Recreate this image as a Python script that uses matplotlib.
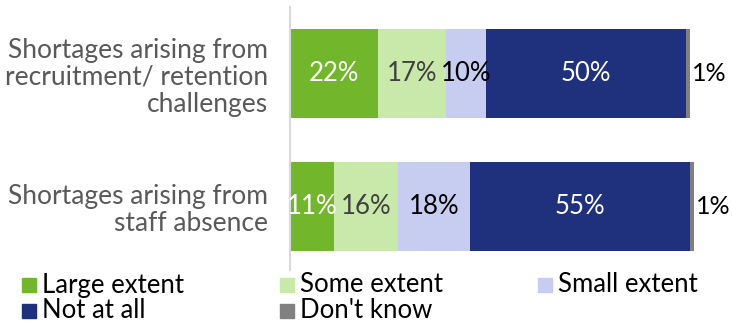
import numpy as np
import matplotlib.pyplot as plt
from matplotlib.patches import Rectangle

plt.rcParams['font.family'] = ['Lato', 'DejaVu Sans']

# Survey responses (% of respondents) for each kind of staff shortage
categories = ['Shortages arising from\nrecruitment/ retention\nchallenges',
              'Shortages arising from\nstaff absence']
series = ['Large extent', 'Some extent', 'Small extent', 'Not at all', "Don't know"]
large_extent = [22, 11]
some_extent = [17, 16]
small_extent = [10, 18]
not_at_all = [50, 55]
dont_know = [1, 1]

values = [large_extent, some_extent, small_extent, not_at_all, dont_know]
colors = ['#72b62c', '#c8e9a9', '#c6cdf0', '#1f317c', '#808080']
label_colors = ['white', '#404040', 'black', 'white', 'black']

fig = plt.figure(figsize=(7.32, 3.23), dpi=100)
ax = fig.add_axes([290 / 732, 1 - 270 / 323, 440 / 732, 263 / 323])

y = np.arange(len(categories))
left = np.zeros(len(categories))
for vals, col, lcol in zip(values, colors, label_colors):
    vals = np.array(vals, dtype=float)
    bars = ax.barh(y, vals, left=left, height=0.67, color=col, edgecolor='none')
    if col == '#808080':
        # tiny slice: label sits outside the bar
        ax.bar_label(bars, labels=[f'{v:.0f}%' for v in vals], padding=1.5,
                     color=lcol, fontsize=18)
    else:
        ax.bar_label(bars, labels=[f'{v:.0f}%' for v in vals], label_type='center',
                     color=lcol, fontsize=18.5)
    left += vals

ax.set_xlim(0, 110)
ax.set_ylim(1.477, -0.5)
ax.set_xticks([])
ax.set_yticks(y)
ax.set_yticklabels(categories, fontsize=19, color='#595959', ha='right',
                   linespacing=1.1)
ax.tick_params(axis='y', length=0, pad=16)
for s in ['top', 'right', 'bottom']:
    ax.spines[s].set_visible(False)
ax.spines['left'].set_color('#d9d9d9')
ax.spines['left'].set_linewidth(1.5)

# legend laid out in fixed-width columns, three per row
col_x = [22, 280, 538]
row_y = [285, 311]
for i, (name, col) in enumerate(zip(series, colors)):
    cx = col_x[i % 3] / 732
    cy = 1 - row_y[i // 3] / 323
    fig.patches.append(Rectangle((cx, cy - 7 / 323), 14 / 732, 14 / 323,
                                 transform=fig.transFigure, color=col))
    fig.text(cx + 20 / 732, cy, name, fontsize=18.5, color='black',
             va='center', ha='left')

fig.savefig('out.png', dpi=100)
